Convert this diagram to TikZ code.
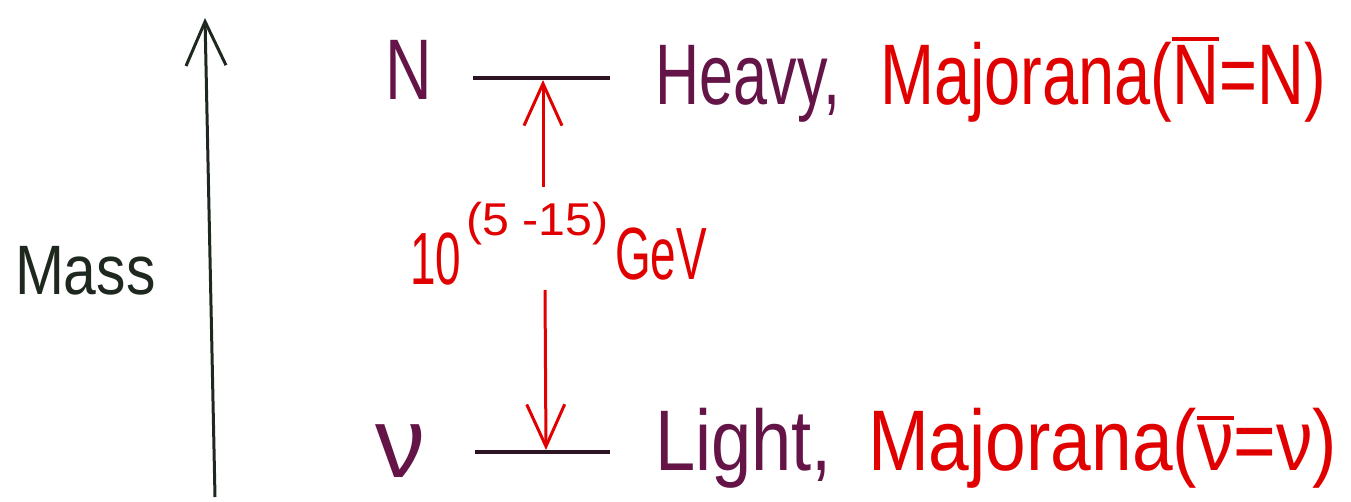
\documentclass[tikz,border=0pt]{standalone}
\usepackage{fontspec}
\setmainfont{Liberation Sans}
\usetikzlibrary{arrows.meta}
\definecolor{axisink}{RGB}{30,40,30}
\definecolor{plum}{RGB}{100,20,70}
\definecolor{redink}{RGB}{225,0,0}
\definecolor{levelink}{RGB}{45,20,35}
\newcommand\barletter[1]{\leavevmode\vbox{\hrule height 4pt\kern 5pt\hbox{#1}}}
\begin{document}
\begin{tikzpicture}[x=1pt,y=-1pt,
  lbl/.style={inner sep=0pt,outer sep=0pt,anchor=base west},
  bigfont/.style={font=\fontsize{86}{90}\selectfont},
  axisline/.style={axisink,line width=3pt,-{Straight Barb[length=44pt,width=40pt]}},
  levelline/.style={levelink,line width=4pt},
  gaparrow/.style={redink,line width=3pt,-{Straight Barb[length=42pt,width=38pt]}}]
\useasboundingbox (0,0) rectangle (1351,502);
% mass axis
\coordinate (axbot) at (215,497);
\coordinate (axtop) at (205,18);
\draw[axisline] (axbot) -- (axtop);
\node[lbl,axisink,font=\fontsize{70}{70}\selectfont,xscale=0.84] (mass) at (15,295) {Mass};
% levels
\coordinate (Nl) at (473,78);
\coordinate (Nr) at (610,78);
\coordinate (nul) at (475,452);
\coordinate (nur) at (610,452);
\draw[levelline] (Nl) -- (Nr);
\draw[levelline] (nul) -- (nur);
\node[lbl,plum,bigfont,xscale=0.75] (Nlab) at (385,100) {N};
\node[lbl,plum,font=\fontsize{100}{100}\selectfont] (nulab) at (375,477) {ν};
% descriptions
\node[lbl,plum,bigfont,xscale=0.71] (heavy) at (655,105) {Heavy,};
\node[lbl,redink,bigfont,xscale=0.755] (majN) at (880,105) {Majorana(\barletter{N}=N)};
\node[lbl,plum,bigfont,xscale=0.84] (light) at (655,470) {Light,};
\node[lbl,redink,bigfont,xscale=0.85] (majnu) at (868,470) {Majorana(\barletter{ν}=ν)};
% gap label
\node[lbl,redink,font=\fontsize{74}{74}\selectfont,xscale=0.62] (ten) at (410,285) {10};
\node[lbl,redink,font=\fontsize{46}{46}\selectfont,xscale=1.05] (expo) at (466,236) {(5 -15)};
\node[lbl,redink,font=\fontsize{74}{74}\selectfont,xscale=0.62] (gev) at (615,280) {GeV};
% gap arrows
\coordinate (gaptop) at (543,187);
\coordinate (gapbot) at (545,290);
\coordinate (Ntip) at (543,80);
\coordinate (nutip) at (546,450);
\draw[gaparrow] (gaptop) -- (Ntip);
\draw[gaparrow] (gapbot) -- (nutip);
\end{tikzpicture}
\end{document}
